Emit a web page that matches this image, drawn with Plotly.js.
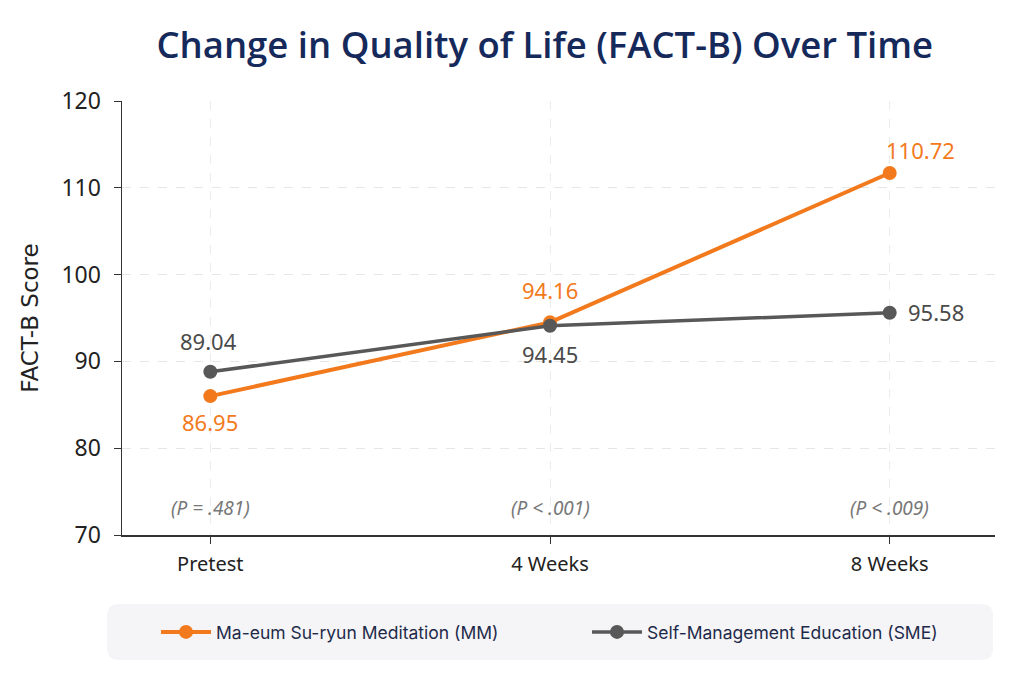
<!DOCTYPE html>
<html>
<head>
<meta charset="utf-8">
<script src="https://cdn.plot.ly/plotly-3.0.1.min.js"></script>
<style>html,body{margin:0;padding:0;background:#fff;}#chart{width:1024px;height:682px;}</style>
</head>
<body>
<div id="chart"></div>
<script>
const timepoints = ["Pretest", "4 Weeks", "8 Weeks"];
const mmValues = [86.0, 94.5, 111.7];
const smeValues = [88.8, 94.1, 95.6];
const mmLabels = ["86.95", "94.16", "110.72"];
const smeLabels = ["89.04", "94.45", "95.58"];
const pValues = ["(P = .481)", "(P < .001)", "(P < .009)"];
const pLabelY = 73.1;

const xIdx = timepoints.map((_, i) => i);
const orange = "#F27A1D";
const gray = "#585858";
const FONT = "Noto Sans, Open Sans, sans-serif";

const traces = [
  {x: xIdx, y: mmValues, mode: "lines+markers", name: "Ma-eum Su-ryun Meditation (MM)", legend: "legend",
   line: {color: orange, width: 4}, marker: {color: orange, size: 14}},
  {x: xIdx, y: smeValues, mode: "lines+markers", name: "Self-Management Education (SME)", legend: "legend2",
   line: {color: gray, width: 3.5}, marker: {color: gray, size: 14}}
];

const annotations = [];
const mmShift = [[0, -26, "center"], [0, 32, "center"], [31, 23, "center"]];
const smeShift = [[-2, 31, "center"], [0, -28, "center"], [16, 1, "left"]];
mmLabels.forEach((t, i) => annotations.push({x: xIdx[i], y: mmValues[i], text: t, showarrow: false,
  xshift: mmShift[i][0], yshift: mmShift[i][1], xanchor: mmShift[i][2],
  font: {family: FONT, size: 22, color: orange}}));
smeLabels.forEach((t, i) => annotations.push({x: xIdx[i], y: smeValues[i], text: t, showarrow: false,
  xshift: smeShift[i][0], yshift: smeShift[i][1], xanchor: smeShift[i][2],
  font: {family: FONT, size: 22, color: "#4a4a4a"}}));
pValues.forEach((t, i) => annotations.push({x: xIdx[i], y: pLabelY, text: "<i>" + t + "</i>", showarrow: false,
  font: {family: FONT, size: 19, color: "#777"}}));

// rounded legend background (paper coords)
const W = 873, H = 434;
const bx0 = (107 - 122) / W, bx1 = (993 - 122) / W, by0 = -(660 - 535) / H, by1 = -(604 - 535) / H;
const rx = 12 / W, ry = 12 / H;
const bgPath = `M ${bx0 + rx} ${by1} L ${bx1 - rx} ${by1} Q ${bx1} ${by1} ${bx1} ${by1 - ry} L ${bx1} ${by0 + ry} Q ${bx1} ${by0} ${bx1 - rx} ${by0} L ${bx0 + rx} ${by0} Q ${bx0} ${by0} ${bx0} ${by0 + ry} L ${bx0} ${by1 - ry} Q ${bx0} ${by1} ${bx0 + rx} ${by1} Z`;

const legFont = {family: "Inter, Noto Sans, sans-serif", size: 17.5, color: "#1E2A4A"};
const layout = {
  width: 1024, height: 682,
  paper_bgcolor: "#fff", plot_bgcolor: "#fff",
  margin: {l: 122, r: 29, t: 101, b: 147},
  title: {text: "Change in Quality of Life (FACT-B) Over Time", x: 0.532, xanchor: "center", y: 0.934, yanchor: "middle",
    font: {family: "Open Sans, Noto Sans, sans-serif", size: 36.5, weight: 600, color: "#15295A"}},
  xaxis: {range: [-0.26, 2.31], tickvals: xIdx, ticktext: timepoints, showgrid: true, gridcolor: "#ececec", griddash: "dash",
    zeroline: false, showline: true, linecolor: "#333", linewidth: 1.5, ticks: "outside", ticklen: 7, tickcolor: "#333",
    ticklabelstandoff: 3,
    tickfont: {family: FONT, size: 20, color: "#222"}, fixedrange: true},
  yaxis: {range: [70, 120], dtick: 10, showgrid: true, gridcolor: "#e6e6e6", griddash: "dash", zeroline: false,
    showline: true, linecolor: "#333", linewidth: 1.5, ticks: "outside", ticklen: 7, tickcolor: "#333",
    ticklabelstandoff: 8,
    tickfont: {family: FONT, size: 23, color: "#222"},
    title: {text: "FACT-B Score", standoff: 16, font: {family: "'DejaVu Sans', sans-serif", size: 23, color: "#222"}}},
  showlegend: true,
  legend: {orientation: "h", x: (156 - 122) / W, xanchor: "left", y: -(632 - 535) / H, yanchor: "middle",
    bgcolor: "rgba(0,0,0,0)", itemwidth: 50, font: legFont},
  legend2: {orientation: "h", x: (587 - 122) / W, xanchor: "left", y: -(632 - 535) / H, yanchor: "middle",
    bgcolor: "rgba(0,0,0,0)", itemwidth: 50, font: legFont},
  shapes: [{type: "path", xref: "paper", yref: "paper", path: bgPath,
    fillcolor: "#F5F5F7", line: {width: 0}, layer: "below"}],
  annotations: annotations
};

Plotly.newPlot("chart", traces, layout, {displayModeBar: false, staticPlot: true});
</script>
</body>
</html>
